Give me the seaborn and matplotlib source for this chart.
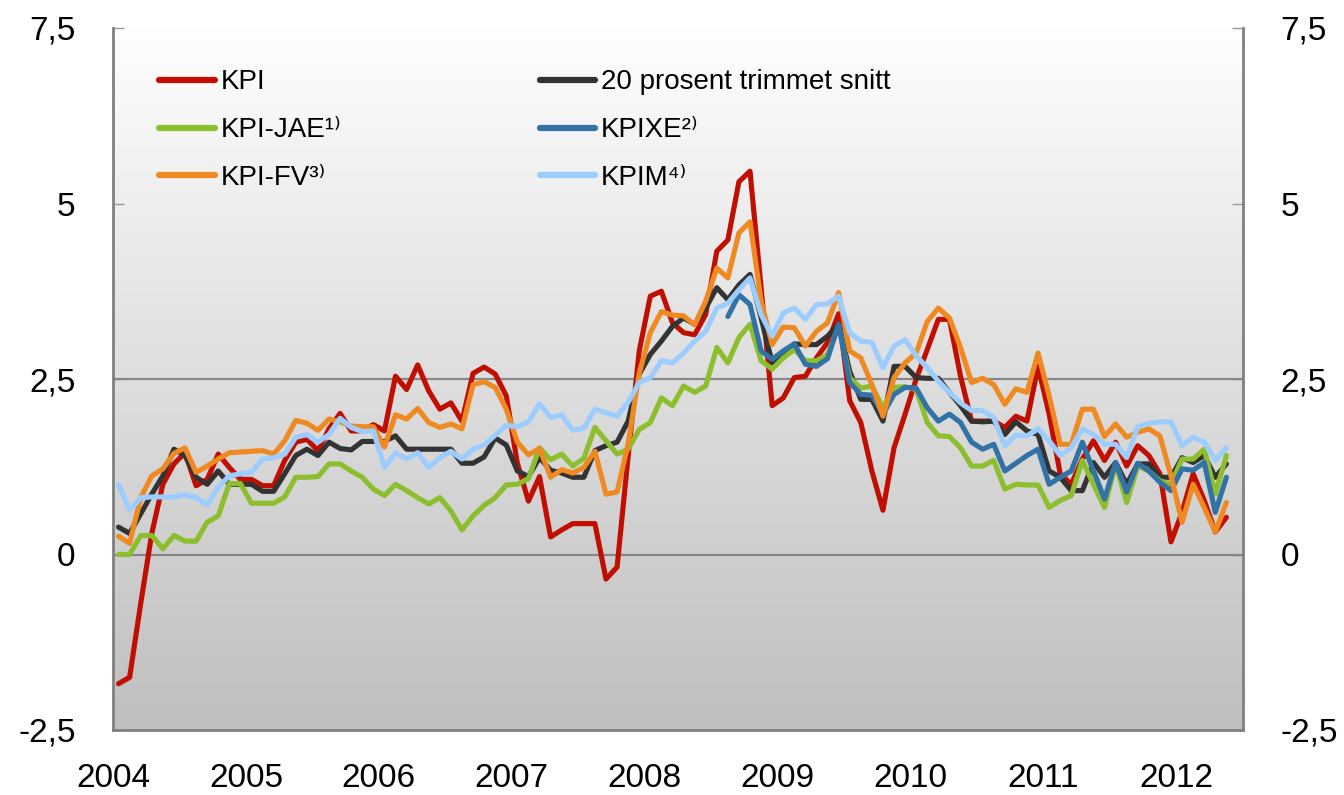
import numpy as np
import pandas as pd
import matplotlib
matplotlib.use("Agg")
import matplotlib.pyplot as plt
from matplotlib.colors import LinearSegmentedColormap
from matplotlib.lines import Line2D
import seaborn as sns

# ---- data (monthly, Jan 2004 - May 2012), 12-month change in percent ----
kpi = [-1.84, -1.75, -0.7, 0.3, 1.0, 1.29, 1.45, 0.98, 1.07, 1.43, 1.24, 1.07, 1.07, 0.98, 0.98, 1.34, 1.60, 1.64, 1.48, 1.79, 2.01,
       1.76, 1.76, 1.85, 1.76, 2.54, 2.35, 2.70, 2.33, 2.07, 2.16, 1.90, 2.58, 2.67, 2.57, 2.26, 1.3, 0.76, 1.11, 0.25, 0.35,
       0.44, 0.44, 0.44, -0.35, -0.18, 1.4, 2.9, 3.68, 3.75, 3.30, 3.16, 3.13, 3.42, 4.32, 4.48, 5.31, 5.46, 3.80, 2.12, 2.23,
       2.52, 2.54, 2.80, 3.02, 3.43, 2.19, 1.88, 1.19, 0.63, 1.52, 2.0, 2.50, 2.92, 3.35, 3.35, 2.54, 1.90, 1.90, 1.90, 1.81,
       1.97, 1.90, 2.68, 2.0, 1.15, 1.0, 1.36, 1.62, 1.34, 1.60, 1.26, 1.55, 1.41, 1.15, 0.18, 0.60, 1.15, 0.77, 0.32, 0.53]
trimmet = [0.39, 0.30, 0.58, 0.86, 1.12, 1.50, 1.41, 1.10, 1.00, 1.19, 1.00, 1.00, 1.00, 0.90, 0.90, 1.15, 1.41, 1.50, 1.41, 1.60, 1.51,
           1.49, 1.61, 1.61, 1.61, 1.69, 1.50, 1.50, 1.50, 1.50, 1.50, 1.30, 1.30, 1.39, 1.66, 1.56, 1.19, 1.11, 1.38, 1.20, 1.16,
           1.10, 1.10, 1.48, 1.55, 1.60, 1.90, 2.57, 2.85, 3.04, 3.25, 3.37, 3.28, 3.51, 3.80, 3.63, 3.84, 3.99, 3.37, 2.73, 2.85,
           3.0, 2.99, 2.99, 3.11, 3.28, 2.61, 2.21, 2.21, 1.90, 2.68, 2.68, 2.52, 2.51, 2.51, 2.31, 2.12, 1.90, 1.89, 1.90, 1.71,
           1.89, 1.76, 1.71, 1.19, 1.10, 0.91, 0.91, 1.31, 1.10, 1.31, 1.0, 1.29, 1.29, 1.10, 1.10, 1.38, 1.31, 1.41, 1.10, 1.29]
kpi_jae = [0.0, 0.0, 0.27, 0.27, 0.08, 0.27, 0.19, 0.19, 0.46, 0.55, 1.01, 1.01, 0.73, 0.73, 0.73, 0.82, 1.10, 1.10, 1.11, 1.29, 1.29,
           1.19, 1.10, 0.93, 0.84, 1.00, 0.91, 0.81, 0.72, 0.81, 0.62, 0.35, 0.55, 0.70, 0.81, 0.99, 1.00, 1.08, 1.52, 1.35, 1.43,
           1.26, 1.37, 1.81, 1.62, 1.43, 1.50, 1.78, 1.88, 2.23, 2.12, 2.40, 2.31, 2.40, 2.95, 2.73, 3.09, 3.28, 2.76, 2.64, 2.80,
           2.92, 2.76, 2.76, 2.85, 3.25, 2.52, 2.37, 2.40, 2.09, 2.38, 2.39, 2.35, 1.88, 1.69, 1.68, 1.52, 1.26, 1.26, 1.34, 0.93,
           1.0, 0.99, 0.99, 0.67, 0.77, 0.84, 1.34, 1.0, 0.67, 1.29, 0.74, 1.26, 1.19, 1.05, 1.0, 1.36, 1.36, 1.50, 0.86, 1.41]
kpi_fv = [0.26, 0.16, 0.81, 1.12, 1.22, 1.44, 1.52, 1.17, 1.26, 1.36, 1.45, 1.46, 1.47, 1.48, 1.43, 1.62, 1.91, 1.87, 1.77, 1.93, 1.89,
          1.83, 1.82, 1.82, 1.53, 1.99, 1.93, 2.08, 1.88, 1.81, 1.86, 1.79, 2.42, 2.46, 2.38, 2.07, 1.60, 1.42, 1.51, 1.10, 1.21,
          1.16, 1.24, 1.47, 0.86, 0.89, 1.58, 2.58, 3.16, 3.46, 3.41, 3.40, 3.27, 3.61, 4.08, 3.94, 4.58, 4.74, 3.61, 2.99, 3.24,
          3.23, 2.97, 3.18, 3.30, 3.73, 2.90, 2.80, 2.42, 1.97, 2.52, 2.73, 2.87, 3.32, 3.51, 3.37, 2.95, 2.45, 2.51, 2.42, 2.14,
          2.36, 2.31, 2.87, 2.26, 1.57, 1.57, 2.07, 2.07, 1.68, 1.86, 1.67, 1.74, 1.79, 1.69, 1.12, 0.46, 1.0, 0.67, 0.32, 0.74]
kpixe = [None] * 55 + [3.39, 3.70, 3.56, 2.90, 2.78, 2.90,
         3.0, 2.71, 2.68, 2.79, 3.28, 2.45, 2.28, 2.27, 2.0, 2.28, 2.38, 2.37, 2.09, 1.90, 2.0, 1.88, 1.60, 1.50, 1.57, 1.19,
         1.30, 1.41, 1.50, 1.0, 1.10, 1.19, 1.60, 1.19, 0.79, 1.31, 0.89, 1.30, 1.19, 1.03, 0.91, 1.22, 1.20, 1.31, 0.60, 1.10]
kpim = [1.00, 0.63, 0.81, 0.82, 0.82, 0.82, 0.85, 0.81, 0.71, 0.96, 1.12, 1.15, 1.17, 1.36, 1.38, 1.43, 1.67, 1.71, 1.60, 1.71, 1.94,
        1.81, 1.75, 1.76, 1.24, 1.45, 1.36, 1.45, 1.24, 1.38, 1.47, 1.36, 1.50, 1.56, 1.70, 1.84, 1.82, 1.89, 2.15, 1.95, 1.99,
        1.77, 1.80, 2.07, 2.02, 1.97, 2.17, 2.45, 2.52, 2.76, 2.73, 2.87, 3.04, 3.18, 3.51, 3.58, 3.77, 3.94, 3.42, 3.11, 3.44,
        3.51, 3.35, 3.56, 3.57, 3.68, 3.16, 3.04, 3.02, 2.66, 2.97, 3.06, 2.83, 2.66, 2.47, 2.31, 2.16, 2.05, 2.05, 1.95, 1.55,
        1.70, 1.69, 1.79, 1.62, 1.41, 1.52, 1.79, 1.71, 1.57, 1.57, 1.38, 1.82, 1.87, 1.89, 1.89, 1.55, 1.67, 1.60, 1.34, 1.52]

series_names = ["KPI", "20 prosent trimmet snitt", "KPI-JAE¹⁾", "KPIXE²⁾", "KPI-FV³⁾", "KPIM⁴⁾"]
series_values = [kpi, trimmet, kpi_jae, kpixe, kpi_fv, kpim]
series_colors = ["#C00F00", "#333333", "#8DBE2D", "#3272A6", "#EF8A22", "#9DCDFF"]
year_ticks = [2004, 2005, 2006, 2007, 2008, 2009, 2010, 2011, 2012]
y_ticks = [-2.5, 0, 2.5, 5, 7.5]
y_tick_labels = ["-2,5", "0", "2,5", "5", "7,5"]

n = len(kpi)
months = pd.date_range("2004-01-01", periods=n, freq="MS")
xpos = months.year + (months.month - 0.5) / 12.0

frames = []
for name, vals in zip(series_names, series_values):
    frames.append(pd.DataFrame({"x": xpos, "value": pd.array(vals, dtype="Float64"), "serie": name}))
df = pd.concat(frames, ignore_index=True)
df["value"] = df["value"].astype(float)

sns.set_theme(style="white")
plt.rcParams["font.family"] = ["Liberation Sans", "DejaVu Sans"]

fig = plt.figure(figsize=(13.44, 7.95), dpi=100)
ax = fig.add_axes([113 / 1344, 1 - 730 / 795, 1130 / 1344, 702 / 795])

xmin, xmax = 2004.0, 2012.5
ymin, ymax = -2.5, 7.5

# gradient background
cmap = LinearSegmentedColormap.from_list("bg", ["#bfbfbf", "#dedede", "#fefefe"])
grad = np.linspace(0, 1, 256).reshape(-1, 1)
ax.imshow(grad, extent=[xmin, xmax, ymin, ymax], origin="lower", aspect="auto", cmap=cmap, zorder=0)

for yv in [0, 2.5]:
    ax.axhline(yv, color="#878787", lw=1.6, zorder=1)

for name, color in zip(series_names, series_colors):
    sub = df[df["serie"] == name]
    sns.lineplot(data=sub, x="x", y="value", ax=ax, color=color, lw=3.7, zorder=3, legend=False)

ax.set_xlim(xmin, xmax)
ax.set_ylim(ymin, ymax)
ax.set_xlabel("")
ax.set_ylabel("")
ax.set_xticks(year_ticks)
ax.set_xticklabels([str(y) for y in year_ticks])
ax.set_yticks(y_ticks)
ax.set_yticklabels(y_tick_labels)
ax.tick_params(axis="x", direction="in", length=8, width=1, color="#999999", pad=24, labelsize=24, labelcolor="black")
ax.tick_params(axis="y", direction="in", length=8, width=1, color="#999999", pad=27, labelsize=24,
               left=True, right=True, labelleft=True, labelright=True, labelcolor="black")

for side in ["left", "right", "bottom"]:
    ax.spines[side].set_visible(True)
    ax.spines[side].set_color("#808080")
    ax.spines[side].set_linewidth(2)
ax.spines["top"].set_visible(False)

# legend (column-first order)
order = [0, 2, 4, 1, 3, 5]
handles = [Line2D([0], [0], color=series_colors[i], lw=4.5, solid_capstyle="round") for i in order]
labels = [series_names[i] for i in order]
leg = ax.legend(handles, labels, ncol=2, loc="upper left", bbox_to_anchor=(0.031, 0.957),
                frameon=False, fontsize=20, handlelength=2.0, handletextpad=0.2,
                columnspacing=7.15, labelspacing=0.79, borderaxespad=0)
for t in leg.get_texts():
    t.set_color("black")

fig.savefig("out.png", dpi=100, facecolor="white")
